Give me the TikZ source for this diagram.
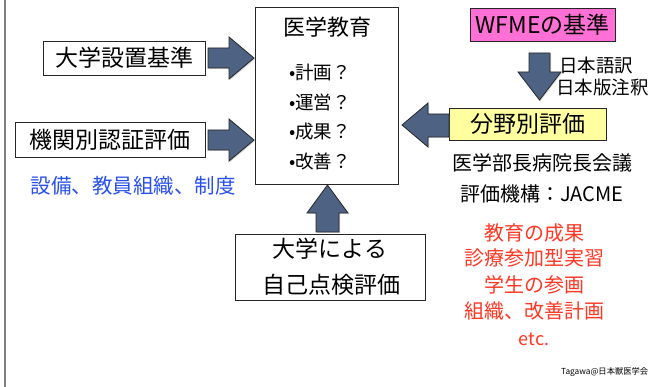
\documentclass[tikz,border=0pt]{standalone}
\usepackage{fontspec}
\setmainfont{Noto Sans CJK JP}
\usetikzlibrary{shadows}
\definecolor{arrowcol}{RGB}{78,98,132}
\definecolor{pinkfill}{RGB}{255,112,214}
\definecolor{yellowfill}{RGB}{255,255,160}
\definecolor{bluetxt}{RGB}{40,80,235}
\definecolor{redtxt}{RGB}{255,55,35}
\begin{document}
\begin{tikzpicture}[x=1pt,y=-1pt,
  box/.style={draw=black!85,line width=0.8pt,inner sep=0pt,minimum height=#1},
  box/.default=34pt,
  blockarrow/.style={fill=arrowcol,draw=black!85,line width=0.8pt,line join=miter,
     drop shadow={opacity=0.35,shadow xshift=1pt,shadow yshift=-1pt}},
  bigtxt/.style={font=\fontsize{23}{26}\selectfont,inner sep=0pt},
  midtxt/.style={font=\fontsize{19}{22}\selectfont,inner sep=0pt},
  bullettxt/.style={font=\fontsize{18.5}{21}\selectfont,inner sep=0pt,anchor=west},
]
\useasboundingbox (0,0) rectangle (650,387);
\fill[white] (0,0) rectangle (650,387);
\draw[black!50,line width=2pt] (5,0) -- (5,387);

% boxes
\node[box,minimum width=162pt,bigtxt] (setchi) at (124,58) {大学設置基準};
\node[box,minimum width=190pt,minimum height=35pt,bigtxt] (kikan) at (110,139.5) {機関別認証評価};
\node[midtxt,text=bluetxt,font=\fontsize{20.5}{23}\selectfont] (setsubi) at (133,186) {設備、教員組織、制度};

\node[box,minimum width=143pt,minimum height=177pt] (main) at (326.5,95.5) {};
\node[bigtxt,font=\fontsize{22}{25}\selectfont] (title) at (327,27) {医学教育};
\node[bullettxt] (b1) at (289,72.5) {•計画？};
\node[bullettxt] (b2) at (289,102) {•運営？};
\node[bullettxt] (b3) at (289,131.5) {•成果？};
\node[bullettxt] (b4) at (289,161) {•改善？};

\node[box,minimum width=190pt,minimum height=66pt] (jiko) at (330,267) {};
\node[bigtxt] (jiko1) at (330,249) {大学による};
\node[bigtxt] (jiko2) at (331,285) {自己点検評価};

\node[box,fill=pinkfill,minimum width=145pt,minimum height=33pt,bigtxt] (wfme) at (542.5,24.5) {WFMEの基準};
\node[midtxt,anchor=west,font=\fontsize{18.5}{21}\selectfont] (yaku1) at (559,66) {日本語訳};
\node[midtxt,anchor=west,font=\fontsize{18.5}{21}\selectfont] (yaku2) at (556,87.5) {日本版注釈};

\node[box,fill=yellowfill,minimum width=157pt,minimum height=32pt,bigtxt] (bunya) at (527.5,124) {分野別評価};
\node[midtxt,font=\fontsize{20}{23}\selectfont] (kaigi) at (542.5,162.5) {医学部長病院長会議};
\node[midtxt,font=\fontsize{20}{23}\selectfont] (jacme) at (542,194) {評価機構：JACME};

\node[midtxt,text=redtxt,font=\fontsize{20}{23}\selectfont] (r1) at (534,233) {教育の成果};
\node[midtxt,text=redtxt,font=\fontsize{20}{23}\selectfont] (r2) at (534,258) {診療参加型実習};
\node[midtxt,text=redtxt,font=\fontsize{20}{23}\selectfont] (r3) at (534,285) {学生の参画};
\node[midtxt,text=redtxt,font=\fontsize{20}{23}\selectfont] (r4) at (534,311) {組織、改善計画};
\node[midtxt,text=redtxt,font=\fontsize{18}{21}\selectfont] (r5) at (534,339) {etc.};

\node[inner sep=0pt,anchor=west,font=\fontsize{8.3}{10}\selectfont] (credit) at (561,372) {Tagawa@日本獣医学会};

% block arrows
\draw[blockarrow] (208,48) -- (229,48) -- (229,37) -- (254,58) -- (229,79) -- (229,68) -- (208,68) -- cycle;
\draw[blockarrow] (208,130) -- (229,130) -- (229,119) -- (254,140) -- (229,161) -- (229,150) -- (208,150) -- cycle;
\draw[blockarrow] (316,232) -- (316,213) -- (307,213) -- (327.5,185) -- (348,213) -- (339,213) -- (339,232) -- cycle;
\draw[blockarrow] (529,53) -- (550,53) -- (550,72) -- (561,72) -- (539.5,100) -- (518,72) -- (529,72) -- cycle;
\draw[blockarrow] (449,114) -- (428,114) -- (428,103) -- (402,125) -- (428,147) -- (428,137) -- (449,137) -- cycle;
\end{tikzpicture}
\end{document}
